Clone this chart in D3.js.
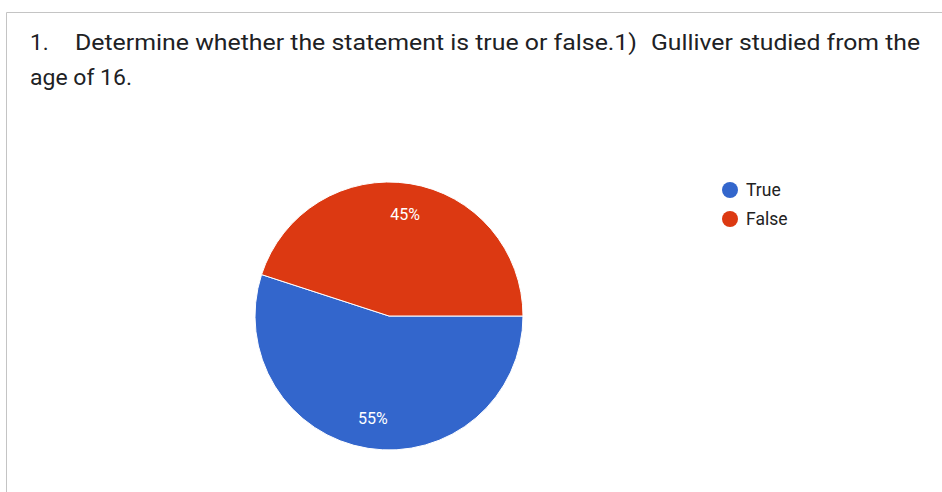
<!DOCTYPE html>
<html>
<head>
<meta charset="utf-8">
<script src="https://cdn.jsdelivr.net/npm/d3@7"></script>
<style>
  html, body { margin: 0; padding: 0; background: #fff; }
  svg { display: block; }
</style>
</head>
<body>
<svg id="chart" width="942" height="492"></svg>
<script>
// Survey question and response breakdown
const questionNumber = "1.";
const questionLines = [
  ["Determine whether the statement is true or false.1)", "Gulliver studied from the"],
  ["age of 16."]
];
const answers = ["True", "False"];
const shares = [55, 45];
const colors = ["#3366cc", "#dc3912"];

const svg = d3.select("#chart");
const W = 942, H = 492;

// Card outline: top rule and left edge
svg.append("line")
  .attr("x1", 6.5).attr("x2", W).attr("y1", 12.5).attr("y2", 12.5)
  .attr("stroke", "#c4c4c4").attr("stroke-width", 1);
svg.append("line")
  .attr("x1", 6.5).attr("x2", 6.5).attr("y1", 12.5).attr("y2", H)
  .attr("stroke", "#c4c4c4").attr("stroke-width", 1);

// Question heading, fitted to the card's line width
const title = svg.append("g")
  .attr("font-family", "Roboto, 'Noto Sans', sans-serif")
  .attr("font-size", 22.5)
  .attr("fill", "#202124");
title.append("text").attr("x", 30).attr("y", 50).text(questionNumber);
title.append("text").attr("x", 75).attr("y", 50)
  .attr("textLength", 562).attr("lengthAdjust", "spacingAndGlyphs")
  .text(questionLines[0][0]);
title.append("text").attr("x", 651).attr("y", 50)
  .attr("textLength", 269).attr("lengthAdjust", "spacingAndGlyphs")
  .text(questionLines[0][1]);
title.append("text").attr("x", 30).attr("y", 85)
  .attr("textLength", 102).attr("lengthAdjust", "spacingAndGlyphs")
  .text(questionLines[1][0]);

// Pie
const cx = 389, cy = 316, r = 134;
const data = answers.map((a, i) => ({ answer: a, value: shares[i], color: colors[i] }));

const pie = d3.pie()
  .value(d => d.value)
  .sort(null)
  .startAngle(Math.PI / 2)
  .endAngle(Math.PI / 2 + 2 * Math.PI);

const arc = d3.arc().innerRadius(0).outerRadius(r);
const labelArc = d3.arc().innerRadius(r * 0.77).outerRadius(r * 0.77);

const g = svg.append("g").attr("transform", `translate(${cx},${cy})`);
const arcs = pie(data);

g.selectAll("path.slice")
  .data(arcs)
  .join("path")
  .attr("class", "slice")
  .attr("d", arc)
  .attr("fill", d => d.data.color)
  .attr("stroke", "#ffffff")
  .attr("stroke-width", 1);

g.selectAll("text.pct")
  .data(arcs)
  .join("text")
  .attr("class", "pct")
  .attr("transform", d => `translate(${labelArc.centroid(d)})`)
  .attr("text-anchor", "middle")
  .attr("dy", "0.35em")
  .attr("font-family", "Roboto, Arial, sans-serif")
  .attr("font-size", 16)
  .attr("fill", "#ffffff")
  .text(d => `${d.data.value}%`);

// Legend
const legend = svg.append("g")
  .attr("font-family", "Roboto, Arial, sans-serif")
  .attr("font-size", 17.5)
  .attr("fill", "#222222");
const legendY = d3.scalePoint().domain(answers).range([190, 219]);
const items = legend.selectAll("g.item")
  .data(data)
  .join("g")
  .attr("class", "item")
  .attr("transform", d => `translate(730,${legendY(d.answer)})`);
items.append("circle").attr("r", 8).attr("fill", d => d.color);
items.append("text").attr("x", 16).attr("dy", "0.35em").text(d => d.answer);
</script>
</body>
</html>
